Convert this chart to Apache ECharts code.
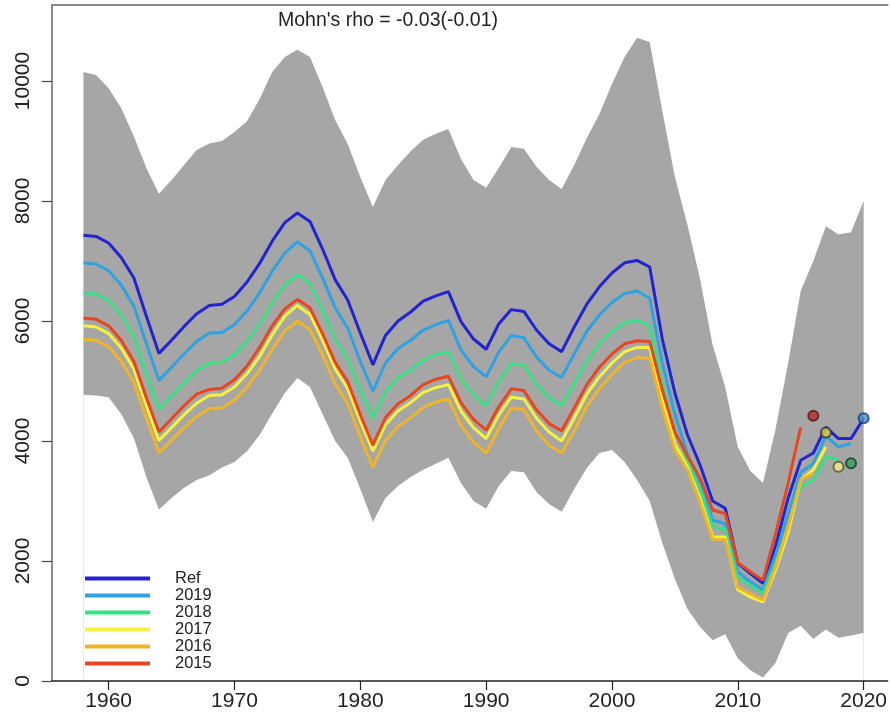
<!DOCTYPE html>
<html><head><meta charset="utf-8">
<script src="https://cdn.jsdelivr.net/npm/echarts@6/dist/echarts.min.js"></script>
<style>html,body{margin:0;padding:0;background:#fff}#c{width:890px;height:721px}</style>
</head><body><div id="c"></div>
<script>
const years = [1958,1959,1960,1961,1962,1963,1964,1965,1966,1967,1968,1969,1970,1971,1972,1973,1974,1975,1976,1977,1978,1979,1980,1981,1982,1983,1984,1985,1986,1987,1988,1989,1990,1991,1992,1993,1994,1995,1996,1997,1998,1999,2000,2001,2002,2003,2004,2005,2006,2007,2008,2009,2010,2011,2012,2013,2014,2015,2016,2017,2018,2019,2020];

const bandUpper = [10150,10100,9880,9550,9080,8550,8120,8350,8600,8850,8960,9000,9150,9330,9700,10150,10400,10520,10400,9900,9350,8950,8400,7900,8350,8600,8830,9020,9120,9200,8700,8350,8220,8550,8900,8870,8570,8350,8200,8600,9050,9450,9950,10400,10720,10650,9500,8400,7600,6700,5600,4900,3900,3500,3300,4200,5300,6500,7000,7580,7440,7480,8000];
const bandLower = [4770,4760,4730,4450,4050,3400,2860,3050,3220,3350,3430,3560,3650,3830,4100,4460,4800,5050,4900,4450,4000,3720,3200,2650,3050,3250,3400,3520,3620,3720,3300,3000,2870,3250,3500,3480,3150,2950,2820,3200,3550,3800,3850,3650,3350,3000,2300,1700,1200,900,680,780,380,180,60,300,800,920,700,860,720,760,800];

const ref = [7430,7410,7300,7060,6720,6080,5460,5680,5910,6120,6260,6280,6410,6650,6960,7330,7640,7800,7660,7200,6690,6350,5800,5270,5760,6000,6150,6330,6420,6490,5990,5700,5530,5950,6190,6160,5850,5620,5490,5900,6280,6570,6800,6970,7010,6900,5700,4800,4100,3600,3000,2880,1960,1790,1630,2250,3050,3680,3800,4230,4040,4040,4380];
const peel2019 = [6970,6950,6840,6600,6250,5620,5010,5230,5450,5660,5800,5810,5940,6170,6470,6830,7130,7320,7170,6720,6220,5880,5330,4830,5300,5540,5680,5850,5940,6010,5520,5240,5070,5480,5760,5720,5400,5180,5060,5450,5830,6100,6310,6460,6500,6380,5300,4450,3780,3300,2680,2620,1820,1650,1520,2100,2780,3480,3620,4080,3900,3960];
const peel2018 = [6470,6450,6340,6100,5750,5120,4530,4750,4970,5170,5300,5310,5440,5660,5950,6300,6600,6770,6620,6180,5700,5370,4860,4380,4820,5050,5180,5350,5440,5490,5040,4770,4590,4990,5300,5260,4940,4720,4590,4960,5330,5620,5830,5970,6010,5920,4950,4150,3680,3200,2570,2530,1720,1600,1460,1950,2570,3240,3350,3740,3680];
const peel2017 = [5920,5900,5790,5550,5200,4590,4010,4220,4440,4630,4760,4770,4900,5120,5410,5770,6080,6260,6110,5680,5200,4870,4330,3830,4270,4500,4640,4810,4890,4940,4500,4220,4040,4430,4730,4700,4380,4150,4000,4380,4780,5070,5300,5490,5560,5560,4700,3950,3570,3050,2400,2400,1520,1400,1320,1850,2470,3350,3520,3900];
const peel2016 = [5700,5680,5570,5330,4980,4380,3800,4010,4220,4410,4540,4550,4680,4900,5180,5530,5830,6000,5860,5430,4950,4620,4070,3560,4010,4240,4390,4560,4650,4700,4260,3980,3800,4200,4550,4520,4170,3930,3800,4170,4580,4870,5110,5310,5390,5380,4550,3850,3520,2980,2360,2360,1560,1450,1350,1900,2570,3350,3460];
const peel2015 = [6050,6030,5920,5680,5330,4720,4150,4370,4590,4780,4860,4880,5020,5250,5560,5920,6200,6360,6220,5790,5310,4990,4440,3930,4390,4620,4760,4940,5030,5080,4640,4360,4180,4570,4870,4840,4520,4290,4170,4550,4940,5230,5450,5620,5670,5660,4850,4150,3750,3380,2850,2790,1970,1820,1680,2450,3300,4230];

const seriesNames = ['Ref','2019','2018','2017','2016','2015'];
const seriesColors = ['#2323d2','#2ea2e2','#3ade84','#f4f23c','#efb52a','#e8461e'];
const seriesValues = [ref, peel2019, peel2018, peel2017, peel2016, peel2015];

const fcYears = [2016,2017,2018,2019,2020];
const fcValues = [4420,4140,3570,3630,4380];
const fcFill = ['#b03030','#d8c838','#f2ee88','#2f9f5f','#4a8fd0'];
const fcBorder = ['#5a1010','#333333','#555533','#123a22','#1a3a80'];

const titleText = "Mohn's rho = -0.03(-0.01)";
const xTicks = [1960,1970,1980,1990,2000,2010,2020];
const yTicks = [0,2000,4000,6000,8000,10000];

const font = 'Liberation Sans, Arial, Helvetica, sans-serif';
const pair = (vals) => vals.map((v, i) => [years[i], v]);

const series = [];
// confidence band: grey area from the axis up to the upper bound, then white area up to the lower bound
series.push({
  name: 'bandUpper', type: 'line', silent: true, data: pair(bandUpper), symbol: 'none',
  lineStyle: { width: 0, opacity: 0 }, areaStyle: { color: '#a6a6a6', opacity: 1, origin: 'start' }, z: 1
});
series.push({
  name: 'bandLower', type: 'line', silent: true, data: pair(bandLower), symbol: 'none',
  lineStyle: { width: 0, opacity: 0 }, areaStyle: { color: '#ffffff', opacity: 1, origin: 'start' }, z: 1
});
seriesNames.forEach((n, k) => {
  series.push({
    name: n, type: 'line', data: pair(seriesValues[k]), showSymbol: false, symbol: 'none',
    lineStyle: { color: seriesColors[k], width: 3 }, itemStyle: { color: seriesColors[k] }, z: 3
  });
});
series.push({
  name: 'forecast', type: 'scatter', symbolSize: 10, z: 5,
  data: fcYears.map((y, i) => ({ value: [y, fcValues[i]], itemStyle: { color: fcFill[i], borderColor: fcBorder[i], borderWidth: 2 } }))
});

const chart = echarts.init(document.getElementById('c'), null, { renderer: 'canvas' });
chart.setOption({
  animation: false,
  backgroundColor: '#ffffff',
  title: { text: titleText, left: 383, top: 6, textAlign: 'center',
    textStyle: { fontFamily: font, fontSize: 19.5, fontWeight: 'normal', color: '#222' } },
  legend: {
    data: seriesNames.map((n) => ({ name: n, icon: 'path://M0,0 L65,0 L65,4 L0,4 Z' })),
    orient: 'vertical', left: 80, top: 565, itemWidth: 65, itemHeight: 12, itemGap: 0,
    textStyle: { fontFamily: font, fontSize: 16.5, lineHeight: 16.6, color: '#222', padding: [0, 0, 0, 20] },
    selectedMode: false
  },
  grid: { left: 52, right: 0, top: 5, bottom: 40, containLabel: false },
  xAxis: [{
    type: 'value', min: 1955.5, max: 2021.9, position: 'bottom', z: 10,
    axisLine: { show: true, onZero: false, lineStyle: { color: '#222', width: 1.5 } },
    axisTick: { show: true, length: 9, customValues: xTicks, lineStyle: { color: '#222', width: 1.2 } },
    axisLabel: { customValues: xTicks, formatter: (v) => String(v), fontFamily: font, fontSize: 21, color: '#222', margin: 10 },
    splitLine: { show: false }
  }, {
    type: 'value', min: 1955.5, max: 2021.9, position: 'top', z: 10,
    axisLine: { show: true, onZero: false, lineStyle: { color: '#888', width: 2 } },
    axisTick: { show: false }, axisLabel: { show: false }, splitLine: { show: false }
  }],
  yAxis: {
    type: 'value', min: 0, max: 11267, z: 10,
    axisLine: { show: true, onZero: false, lineStyle: { color: '#666', width: 1.5 } },
    axisTick: { show: true, length: 10, customValues: yTicks, lineStyle: { color: '#444', width: 1.2 } },
    axisLabel: { customValues: yTicks, formatter: (v) => String(v), rotate: 90, fontFamily: font, fontSize: 21, color: '#222', margin: 18 },
    splitLine: { show: false }
  },
  series: series
});
</script></body></html>
